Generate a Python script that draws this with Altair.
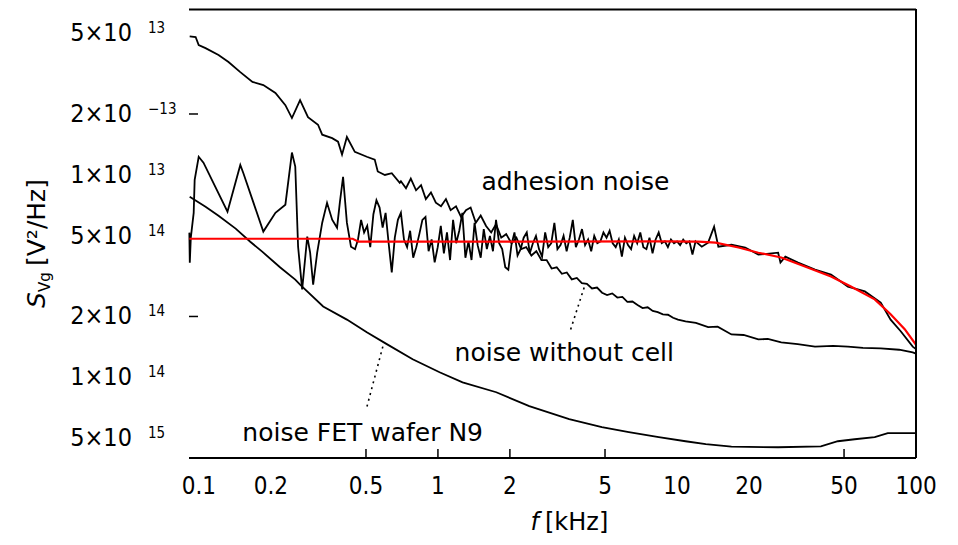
import altair as alt
import pandas as pd

# ---------------- data (frequency in kHz, spectral density in V^2/Hz) -------------
wocell_f = [0.0915, 0.0969, 0.0998, 0.1066, 0.1208, 0.133, 0.149, 0.1675, 0.186, 0.209,
            0.230, 0.245, 0.265, 0.286, 0.315, 0.328, 0.361, 0.382, 0.397, 0.416,
            0.449, 0.504, 0.544, 0.560, 0.600, 0.641, 0.692, 0.70, 0.735, 0.77,
            0.81, 0.85, 0.89, 0.935, 0.98, 1.03, 1.08, 1.13, 1.19, 1.25,
            1.31, 1.37, 1.44, 1.51, 1.59, 1.67, 1.75, 1.84, 1.93, 2.03,
            2.13, 2.23, 2.34, 2.46, 2.58, 2.71, 2.85, 2.99, 3.14, 3.30,
            3.46, 3.63, 3.81, 4.00, 4.20, 4.41, 4.63, 4.86, 5.10, 5.36,
            5.63, 5.91, 6.20, 6.51, 6.84, 7.18, 7.54, 7.92, 8.31, 8.73,
            9.17, 9.63, 10.1, 10.86, 12.0, 13.5, 14.8, 16.9, 19.0, 21.9,
            24.0, 27.3, 32.0, 37.8, 45.0, 51.9, 60.0, 71.2, 85.0, 96.9,
            100.0]
wocell_s = [4.84e-13, 4.80e-13, 4.38e-13, 4.23e-13, 3.91e-13, 3.61e-13, 3.22e-13, 2.88e-13, 2.78e-13, 2.54e-13,
            2.21e-13, 1.91e-13, 2.34e-13, 1.93e-13, 1.77e-13, 1.58e-13, 1.52e-13, 1.46e-13, 1.26e-13, 1.54e-13,
            1.30e-13, 1.23e-13, 1.19e-13, 1.04e-13, 1.00e-13, 1.02e-13, 9.14e-14, 9.3e-14, 8.6e-14, 9.6e-14,
            8.4e-14, 8.9e-14, 7.6e-14, 8.2e-14, 7.3e-14, 7.0e-14, 7.6e-14, 6.7e-14, 7.0e-14, 6.2e-14,
            6.7e-14, 6.9e-14, 5.8e-14, 6.3e-14, 5.6e-14, 5.2e-14, 5.7e-14, 4.9e-14, 5.1e-14, 4.6e-14,
            4.9e-14, 4.3e-14, 4.4e-14, 4.0e-14, 4.2e-14, 3.8e-14, 3.8e-14, 3.45e-14, 3.5e-14, 3.25e-14,
            3.3e-14, 3.05e-14, 3.1e-14, 2.92e-14, 2.9e-14, 2.75e-14, 2.78e-14, 2.62e-14, 2.55e-14, 2.6e-14,
            2.48e-14, 2.5e-14, 2.36e-14, 2.37e-14, 2.28e-14, 2.2e-14, 2.22e-14, 2.13e-14, 2.1e-14, 2.05e-14,
            2.04e-14, 1.97e-14, 1.93e-14, 1.89e-14, 1.86e-14, 1.77e-14, 1.78e-14, 1.63e-14, 1.62e-14, 1.54e-14,
            1.55e-14, 1.49e-14, 1.46e-14, 1.42e-14, 1.43e-14, 1.42e-14, 1.40e-14, 1.39e-14, 1.37e-14, 1.33e-14,
            1.31e-14]

adh_f = [0.0912, 0.0916, 0.0925, 0.0951, 0.0960, 0.0998, 0.1045, 0.1317, 0.149, 0.1535,
         0.186, 0.209, 0.230, 0.245, 0.253, 0.260, 0.2704, 0.284, 0.292, 0.3006,
         0.3125, 0.328, 0.3436, 0.361, 0.3784, 0.389, 0.401, 0.416, 0.4327, 0.45,
         0.463, 0.477, 0.491, 0.506, 0.521, 0.537, 0.553, 0.570, 0.587, 0.604,
         0.622, 0.641, 0.660, 0.680, 0.700, 0.721, 0.743, 0.765, 0.788, 0.812,
         0.836, 0.861, 0.887, 0.914, 0.941, 0.969, 0.998, 1.028, 1.059, 1.091,
         1.124, 1.157, 1.192, 1.228, 1.265, 1.303, 1.342, 1.382, 1.423, 1.466,
         1.510, 1.555, 1.602, 1.650, 1.699, 1.750, 1.803, 1.857, 1.913, 1.970,
         2.029, 2.090, 2.153, 2.218, 2.284, 2.353, 2.423, 2.496, 2.571, 2.648,
         2.727, 2.809, 2.893, 2.980, 3.070, 3.162, 3.257, 3.354, 3.455, 3.559,
         3.666, 3.776, 3.889, 4.006, 4.126, 4.249, 4.377, 4.508, 4.643, 4.783,
         4.926, 5.074, 5.226, 5.383, 5.544, 5.711, 5.882, 6.058, 6.240, 6.427,
         6.620, 6.818, 7.023, 7.234, 7.451, 7.674, 7.904, 8.141, 8.386, 8.637,
         8.896, 9.163, 9.438, 9.721, 10.01, 10.31, 10.62, 10.94, 11.27, 11.61,
         11.96, 12.7, 13.5, 14.3, 14.9, 16.9, 19.3, 21.9, 26.5, 27.1,
         28.4, 32.1, 37.8, 44.1, 51.9, 61.1, 71.2, 78.3, 86.3, 96.9,
         100.0]
adh_s = [5.19e-14, 3.69e-14, 4.9e-14, 6.50e-14, 9.46e-14, 1.23e-13, 1.15e-13, 6.58e-14, 1.12e-13, 1.02e-13,
         5.25e-14, 6.50e-14, 7.13e-14, 1.29e-13, 1.10e-13, 4.42e-14, 2.72e-14, 4.96e-14, 4.13e-14, 2.87e-14,
         4.13e-14, 5.81e-14, 7.28e-14, 6.01e-14, 5.49e-14, 7.37e-14, 9.79e-14, 5.81e-14, 4.42e-14, 4.3e-14,
         4.8e-14, 6.0e-14, 5.2e-14, 5.6e-14, 4.4e-14, 6.4e-14, 7.5e-14, 6.9e-14, 5.5e-14, 6.5e-14,
         4.6e-14, 3.3e-14, 4.9e-14, 6.0e-14, 6.5e-14, 4.8e-14, 4.4e-14, 5.3e-14, 3.9e-14, 4.4e-14,
         5.1e-14, 6.0e-14, 6.2e-14, 4.2e-14, 4.8e-14, 3.7e-14, 4.4e-14, 5.6e-14, 4.1e-14, 5.2e-14,
         3.8e-14, 6.0e-14, 4.6e-14, 5.3e-14, 6.5e-14, 3.9e-14, 4.7e-14, 3.8e-14, 5.8e-14, 4.5e-14,
         3.9e-14, 5.4e-14, 4.3e-14, 5.0e-14, 4.2e-14, 6.0e-14, 4.6e-14, 4.3e-14, 3.5e-14, 3.4e-14,
         4.5e-14, 5.2e-14, 4.0e-14, 4.3e-14, 4.9e-14, 5.2e-14, 4.1e-14, 4.6e-14, 5.0e-14, 4.3e-14,
         3.95e-14, 5.2e-14, 4.4e-14, 4.6e-14, 5.8e-14, 4.3e-14, 4.5e-14, 5.0e-14, 4.2e-14, 4.9e-14,
         6.0e-14, 4.4e-14, 4.8e-14, 5.4e-14, 4.5e-14, 4.8e-14, 4.2e-14, 5.0e-14, 4.6e-14, 4.7e-14,
         5.2e-14, 4.9e-14, 5.3e-14, 4.6e-14, 4.4e-14, 4.8e-14, 3.95e-14, 4.9e-14, 4.5e-14, 4.3e-14,
         5.0e-14, 4.6e-14, 5.2e-14, 4.4e-14, 4.3e-14, 4.9e-14, 4.1e-14, 4.8e-14, 5.2e-14, 4.6e-14,
         4.7e-14, 4.4e-14, 4.8e-14, 4.6e-14, 4.7e-14, 4.5e-14, 4.8e-14, 4.6e-14, 4.7e-14, 4.05e-14,
         4.7e-14, 4.42e-14, 4.63e-14, 5.55e-14, 4.42e-14, 4.52e-14, 4.38e-14, 4.04e-14, 4.13e-14, 3.69e-14,
         3.95e-14, 3.69e-14, 3.41e-14, 3.22e-14, 2.81e-14, 2.66e-14, 2.34e-14, 1.93e-14, 1.69e-14, 1.42e-14,
         1.38e-14]

fet_f = [0.0915, 0.1066, 0.1208, 0.1425, 0.164, 0.184, 0.219, 0.253, 0.265, 0.331,
         0.416, 0.504, 0.611, 0.784, 1.016, 1.268, 1.754, 2.41, 3.54, 4.85,
         6.29, 8.39, 10.86, 13.2, 16.9, 26.5, 40.0, 47.1, 55.4, 67.2,
         76.2, 100.0]
fet_s = [7.80e-14, 6.97e-14, 6.29e-14, 5.43e-14, 4.68e-14, 4.18e-14, 3.49e-14, 3.04e-14, 2.87e-14, 2.24e-14,
         1.93e-14, 1.67e-14, 1.46e-14, 1.23e-14, 1.06e-14, 9.46e-15, 8.45e-15, 7.21e-15, 6.22e-15, 5.68e-15,
         5.37e-15, 5.07e-15, 4.84e-15, 4.68e-15, 4.55e-15, 4.52e-15, 4.57e-15, 4.84e-15, 4.95e-15, 5.07e-15,
         5.31e-15, 5.31e-15]

fit_f = [0.0912, 0.44, 0.465, 9.0, 12.3, 14.5, 18.1, 21.9, 27.3, 34.3,
         44.1, 53.4, 67.2, 78.3, 89.7, 100.0]
fit_s = [4.84e-14, 4.84e-14, 4.68e-14, 4.70e-14, 4.68e-14, 4.63e-14, 4.38e-14, 4.13e-14, 3.91e-14, 3.53e-14,
         3.15e-14, 2.81e-14, 2.43e-14, 2.05e-14, 1.73e-14, 1.45e-14]

# tick labels
xlab_vals = [0.1, 0.2, 0.5, 1, 2, 5, 10, 20, 50, 100]
xlab_text = ["0.1", "0.2", "0.5", "1", "2", "5", "10", "20", "50", "100"]
xtick_vals = [0.5, 1, 2, 5, 50]
ylab_vals = [5e-13, 2e-13, 1e-13, 5e-14, 2e-14, 1e-14, 5e-15]
ylab_main = ["5×10", "2×10", "1×10", "5×10", "2×10", "1×10", "5×10"]
ylab_sup = ["13", "−13", "13", "14", "14", "14", "15"]
ytick_vals = [2e-13, 2e-14]

# annotations
ann_text = ["adhesion noise", "noise without cell", "noise FET wafer N9"]
ann_f = [1.52, 1.174, 0.152]
ann_s = [8.45e-14, 1.21e-14, 4.84e-15]
lead_f = [4.09, 0.588]
lead_s = [2.78e-14, 1.42e-14]
lead_f2 = [3.57, 0.504]
lead_s2 = [1.69e-14, 7.13e-15]

# ---------------- build ----------------
W, H = 727, 449
xs = alt.Scale(type="log", domain=[0.0909, 100], nice=False)
ys = alt.Scale(type="log", domain=[4.0e-15, 6.6e-13], nice=False)

rows = []
for name, ff, ss in [("wocell", wocell_f, wocell_s), ("adh", adh_f, adh_s), ("fet", fet_f, fet_s)]:
    for i, (a, b) in enumerate(zip(ff, ss)):
        rows.append({"series": name, "i": i, "f": a, "S": b})
df_lines = pd.DataFrame(rows)
df_fit = pd.DataFrame({"f": fit_f, "S": fit_s, "i": list(range(len(fit_f)))})

X = alt.X("f:Q", scale=xs, axis=None)
Y = alt.Y("S:Q", scale=ys, axis=None)

lines = alt.Chart(df_lines).mark_line(color="black", strokeWidth=1.8).encode(
    x=X, y=Y, detail="series:N", order="i:Q")
fit = alt.Chart(df_fit).mark_line(color="#ff0000", strokeWidth=2.2).encode(
    x=X, y=Y, order="i:Q")

one = pd.DataFrame({"a": [0]})
frame_top = alt.Chart(one).mark_rule(color="black", strokeWidth=2).encode(
    x=alt.value(0), x2=alt.value(W), y=alt.value(0.5))
frame_bot = alt.Chart(one).mark_rule(color="black", strokeWidth=2).encode(
    x=alt.value(0), x2=alt.value(W), y=alt.value(H))
frame_right = alt.Chart(one).mark_rule(color="black", strokeWidth=2).encode(
    x=alt.value(W), y=alt.value(0), y2=alt.value(H))

xticks = alt.Chart(pd.DataFrame({"f": xtick_vals})).mark_rule(color="black", strokeWidth=1.5).encode(
    x=X, y=alt.value(H), y2=alt.value(H - 9))
yticks = alt.Chart(pd.DataFrame({"S": ytick_vals})).mark_rule(color="black", strokeWidth=1.5).encode(
    y=Y, x=alt.value(0), x2=alt.value(9))

font_lab = "DejaVu Sans Condensed, DejaVu Sans"
xlabels = alt.Chart(pd.DataFrame({"f": xlab_vals, "t": xlab_text})).mark_text(
    font=font_lab, fontSize=24, baseline="middle", align="center", color="black").encode(
    x=X, y=alt.value(H + 29), text="t:N")
ylabels = alt.Chart(pd.DataFrame({"S": ylab_vals, "t": ylab_main})).mark_text(
    font=font_lab, fontSize=25, baseline="middle", align="right", color="black").encode(
    y=Y, x=alt.value(-57), text="t:N")
ysup = alt.Chart(pd.DataFrame({"S": ylab_vals, "t": ylab_sup})).mark_text(
    font=font_lab, fontSize=15, baseline="middle", align="left", dy=-5, color="black").encode(
    y=Y, x=alt.value(-41), text="t:N")

ann = alt.Chart(pd.DataFrame({"f": ann_f, "S": ann_s, "t": ann_text})).mark_text(
    font="DejaVu Sans", fontSize=25, baseline="alphabetic", align="left", color="black").encode(
    x=X, y=Y, text="t:N")
leaders = alt.Chart(pd.DataFrame({"f": lead_f, "S": lead_s, "f2": lead_f2, "S2": lead_s2})).mark_rule(
    color="black", strokeWidth=1.6, strokeDash=[2, 4]).encode(
    x=X, y=Y, x2="f2:Q", y2="S2:Q")

# axis titles
xt1 = alt.Chart(one).mark_text(font="DejaVu Sans", fontSize=24, fontStyle="italic",
                               align="right", baseline="middle").encode(
    x=alt.value(350), y=alt.value(514), text=alt.value("f"))
xt2 = alt.Chart(one).mark_text(font="DejaVu Sans", fontSize=24, align="left",
                               baseline="middle").encode(
    x=alt.value(356), y=alt.value(514), text=alt.value("[kHz]"))
yt1 = alt.Chart(one).mark_text(font="DejaVu Sans", fontSize=25, fontStyle="italic", angle=270,
                               align="left", baseline="alphabetic").encode(
    x=alt.value(-144), y=alt.value(299), text=alt.value("S"))
yt2 = alt.Chart(one).mark_text(font="DejaVu Sans", fontSize=15, angle=270, dx=16, dy=5,
                               align="left", baseline="alphabetic").encode(
    x=alt.value(-144), y=alt.value(299), text=alt.value("Vg"))
yt3 = alt.Chart(one).mark_text(font="DejaVu Sans", fontSize=25, angle=270, dx=42,
                               align="left", baseline="alphabetic").encode(
    x=alt.value(-144), y=alt.value(299), text=alt.value("[V²/Hz]"))

chart = alt.layer(
    lines, fit, frame_top, frame_bot, frame_right, xticks, yticks,
    xlabels, ylabels, ysup, ann, leaders, xt1, xt2, yt1, yt2, yt3
).properties(
    width=W, height=H,
    autosize=alt.AutoSizeParams(type="none"),
    padding={"left": 189, "top": 9, "right": 42, "bottom": 87},
    background="white",
).configure_view(stroke=None)

chart.save("out.html", embed_options={"renderer": "svg", "actions": False})
